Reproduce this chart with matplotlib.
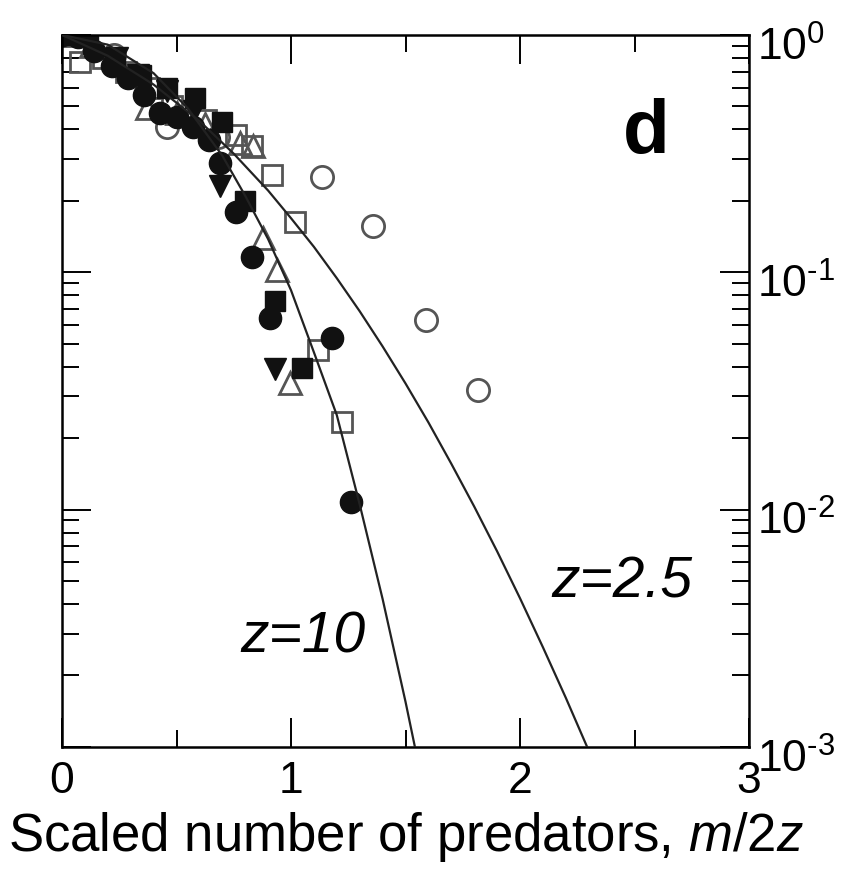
import numpy as np
import matplotlib
matplotlib.use("Agg")
import matplotlib.pyplot as plt
import matplotlib.transforms as mtransforms
from matplotlib.ticker import LogLocator, FixedLocator, NullFormatter

plt.rcParams['font.family'] = ['Liberation Sans', 'DejaVu Sans']
plt.rcParams['mathtext.fontset'] = 'custom'
plt.rcParams['mathtext.rm'] = 'Liberation Sans'
plt.rcParams['mathtext.it'] = 'Liberation Sans:italic'

# data: scaled number of predators vs probability
fc_x = [0.00, 0.07, 0.14, 0.22, 0.29, 0.36, 0.43, 0.50, 0.57, 0.64, 0.69, 0.76, 0.83, 0.91, 1.18, 1.26]
fc_y = [1.0, 0.98, 0.86, 0.74, 0.66, 0.56, 0.47, 0.45, 0.41, 0.36, 0.29, 0.18, 0.116, 0.064, 0.053, 0.0108]

fs_x = [0.00, 0.115, 0.23, 0.345, 0.46, 0.58, 0.70, 0.80, 0.93, 1.05]
fs_y = [1.0, 1.0, 0.80, 0.68, 0.60, 0.54, 0.43, 0.20, 0.076, 0.0395]

ft_x = [0.00, 0.12, 0.24, 0.33, 0.46, 0.575, 0.69, 0.93]
ft_y = [1.0, 0.93, 0.80, 0.68, 0.58, 0.48, 0.23, 0.039]

ot_x = [0.00, 0.125, 0.25, 0.37, 0.50, 0.625, 0.777, 0.834, 0.878, 0.939, 0.996]
ot_y = [1.0, 0.90, 0.76, 0.49, 0.47, 0.42, 0.35, 0.34, 0.14, 0.102, 0.034]

os_x = [0.08, 0.18, 0.28, 0.38, 0.48, 0.63, 0.76, 0.83, 0.917, 1.017, 1.118, 1.223]
os_y = [0.77, 0.80, 0.70, 0.60, 0.50, 0.44, 0.38, 0.34, 0.257, 0.163, 0.047, 0.0234]

oc_x = [0.00, 0.227, 0.459, 0.681, 1.135, 1.358, 1.590, 1.817]
oc_y = [1.0, 0.82, 0.41, 0.37, 0.252, 0.157, 0.063, 0.032]

# theory curves
z10_x = [0.0, 0.2, 0.4, 0.55, 0.7, 0.8, 0.9, 1.0, 1.1, 1.2, 1.3, 1.4, 1.5, 1.541]
z10_y = [1.0, 0.91, 0.69, 0.49, 0.31, 0.21, 0.138, 0.084, 0.046, 0.025, 0.0105, 0.0042, 0.00155, 0.001]

z25_x = [0.0, 0.2, 0.4, 0.6, 0.75, 0.9, 1.0, 1.1, 1.2, 1.3, 1.4, 1.5, 1.6, 1.7, 1.8,
         1.9, 2.0, 2.1, 2.2, 2.293]
z25_y = [1.0, 0.817, 0.618, 0.434, 0.316, 0.221, 0.169, 0.128, 0.0944, 0.0685, 0.0487,
         0.0340, 0.0233, 0.0156, 0.0103, 0.00667, 0.00423, 0.00263, 0.00161, 0.001]

fig = plt.figure(figsize=(8.54, 8.85), dpi=100)
ax = fig.add_axes([0.0726, 0.156, 0.8045, 0.8045])

ms = 16
ax.plot(oc_x, oc_y, 'o', ms=ms, mfc='none', mec='#555555', mew=2.0)
ax.plot(os_x, os_y, 's', ms=ms - 1, mfc='none', mec='#555555', mew=2.0)
ax.plot(ot_x, ot_y, '^', ms=ms, mfc='none', mec='#555555', mew=2.0)
ax.plot(ft_x, ft_y, 'v', ms=ms, color='#111111')
ax.plot(fs_x, fs_y, 's', ms=ms - 1, color='#111111')
ax.plot(fc_x, fc_y, 'o', ms=ms, color='#111111')

ax.plot(z10_x, z10_y, '-', color='#222222', lw=1.6, zorder=5)
ax.plot(z25_x, z25_y, '-', color='#222222', lw=1.6, zorder=5)

ax.set_yscale('log')
ax.set_xlim(0, 3)
ax.set_ylim(1e-3, 1)

ax.xaxis.set_major_locator(FixedLocator([0, 1, 2, 3]))
ax.xaxis.set_minor_locator(FixedLocator([0.5, 1.5, 2.5]))
ax.set_xticklabels(['0', '1', '2', '3'])
ax.yaxis.set_major_locator(FixedLocator([1e-3, 1e-2, 1e-1, 1]))
ax.yaxis.set_minor_locator(LogLocator(base=10, subs=np.arange(2, 10)))
ax.yaxis.set_minor_formatter(NullFormatter())
ax.set_yticklabels([r'$10^{\text{-}3}$', r'$10^{\text{-}2}$', r'$10^{\text{-}1}$', r'$10^{0}$'])

ax.tick_params(which='both', direction='in', top=True, bottom=True, left=True, right=True,
               labelleft=False, labelright=True, width=1.4)
ax.tick_params(which='major', length=21)
ax.tick_params(which='minor', length=12)
ax.tick_params(axis='x', labelsize=32, pad=10)
ax.tick_params(axis='y', labelsize=32, pad=6)
for s in ax.spines.values():
    s.set_linewidth(1.8)

# nudge right-hand labels down a little
shift = mtransforms.ScaledTranslation(0, -6 / 72, fig.dpi_scale_trans)
for lab in ax.get_yticklabels():
    lab.set_transform(lab.get_transform() + shift)

ax.set_xlabel(r'Scaled number of predators, $m/2z$', fontsize=38, labelpad=6)

ax.text(0.850, 0.862, 'd', transform=ax.transAxes, fontsize=55, fontweight='bold',
        ha='center', va='center')
ax.text(1.05, 0.0029, 'z=10', fontsize=41, style='italic', ha='center', va='center')
ax.text(2.445, 0.00495, 'z=2.5', fontsize=41, style='italic', ha='center', va='center')

fig.savefig('out.png', dpi=100)
